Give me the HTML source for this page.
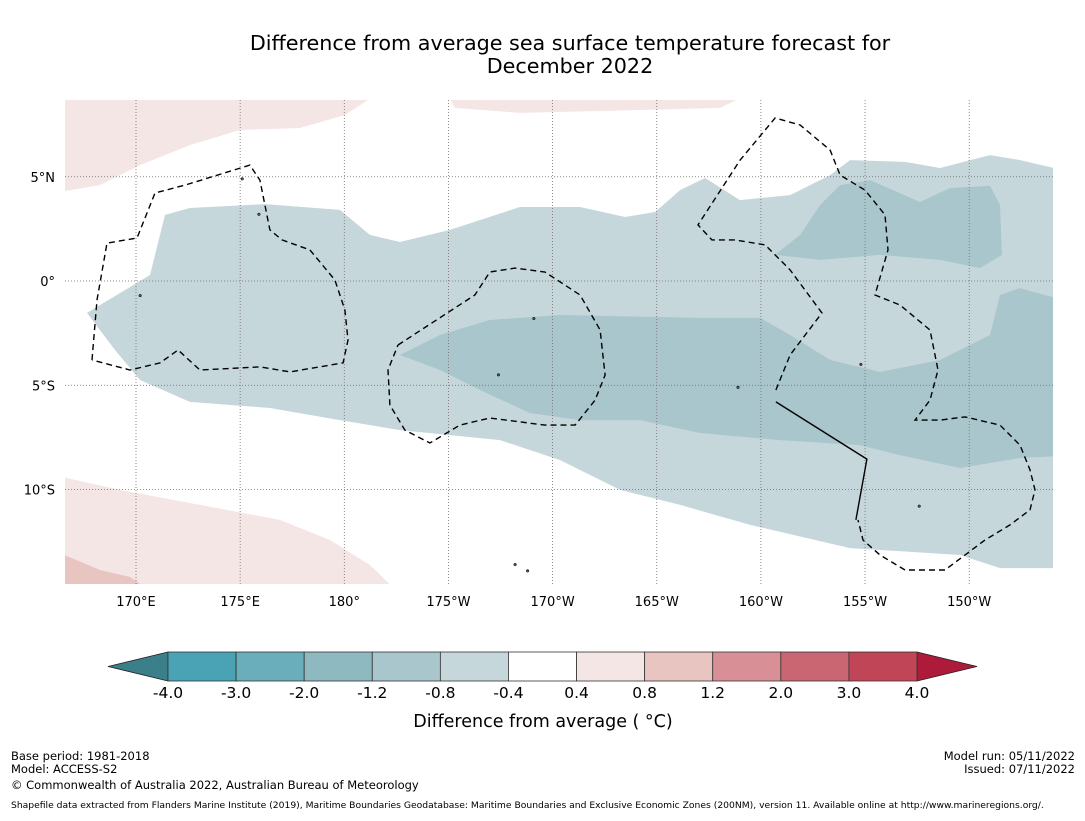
<!DOCTYPE html>
<html><head><meta charset="utf-8">
<style>
body{margin:0;background:#fff;font-family:"Liberation Sans","DejaVu Sans",sans-serif;}
svg text{font-family:"DejaVu Sans","Liberation Sans",sans-serif;}
</style></head>
<body>
<svg id="c" width="1085" height="816" xmlns="http://www.w3.org/2000/svg">
<rect width="1085" height="816" fill="#fff"/>
<text x="570" y="50" font-size="20.7" text-anchor="middle">Difference from average sea surface temperature forecast for</text>
<text x="570" y="73" font-size="20.7" text-anchor="middle">December 2022</text>
<defs><clipPath id="mapclip"><rect x="65" y="100" width="988" height="484"/></clipPath></defs>
<g id="map" clip-path="url(#mapclip)"></g>
<g id="axes"></g>
<g id="cbar"></g>
<text x="543" y="727" font-size="17.5" text-anchor="middle">Difference from average ( °C)</text>
<g font-size="11.5" font-family="Liberation Sans, sans-serif">
<text x="11" y="760">Base period: 1981-2018</text>
<text x="11" y="773">Model: ACCESS-S2</text>
<text x="11" y="789">© Commonwealth of Australia 2022, Australian Bureau of Meteorology</text>
<text x="1075" y="760" text-anchor="end">Model run: 05/11/2022</text>
<text x="1075" y="773" text-anchor="end">Issued: 07/11/2022</text>
<text x="11" y="808" font-size="9.2">Shapefile data extracted from Flanders Marine Institute (2019), Maritime Boundaries Geodatabase: Maritime Boundaries and Exclusive Economic Zones (200NM), version 11. Available online at http://www.marineregions.org/.</text>
</g>
</svg>
<script>
const lonTicks=[170,175,180,185,190,195,200,205,210];
const lonTickLabels=["170°E","175°E","180°","175°W","170°W","165°W","160°W","155°W","150°W"];
const latTicks=[5,0,-5,-10];
const latTickLabels=["5°N","0°","5°S","10°S"];
const cbarLabels=["-4.0","-3.0","-2.0","-1.2","-0.8","-0.4","0.4","0.8","1.2","2.0","3.0","4.0"];
const cbarColors=["#4aa3b4","#6aaebc","#8fb9c1","#a8c6cb","#c5d7db","#ffffff","#f4e6e5","#e8c5c1","#d88f96","#ca6572","#c04556"];
const anomLight=[[167.65,-1.53],[170.67,0.29],[171.39,3.17],[172.59,3.5],[176.19,3.69],[179.79,3.41],[181.23,2.21],[182.67,1.87],[185.07,2.45],[188.43,3.55],[191.32,3.55],[193.48,3.07],[194.92,3.31],[196.12,4.36],[197.32,4.94],[198.99,3.88],[201.4,4.12],[203.32,5.08],[204.28,5.8],[206.92,5.71],[208.6,5.42],[211,6.04],[212.44,5.8],[214.5,5.32],[214.5,-13.77],[211.48,-13.77],[209.56,-13.14],[204.28,-12.81],[199.48,-11.7],[196.12,-10.74],[193.24,-10.02],[190.36,-8.59],[187.47,-7.63],[182.67,-7.15],[179.79,-6.67],[176.43,-6.09],[172.59,-5.8],[170.19,-4.75],[168.99,-3.31]];
const anomMidBand=[[182.67,-3.55],[184.59,-2.59],[186.99,-1.87],[190.36,-1.63],[197.08,-1.77],[199.96,-1.77],[201.4,-2.59],[203.32,-3.79],[205.72,-4.36],[208.6,-3.79],[211,-2.59],[211.48,-0.67],[212.44,-0.34],[214.5,-0.91],[214.5,-8.39],[212.44,-8.49],[209.56,-8.97],[206.68,-8.35],[204.76,-7.87],[200.92,-7.63],[197.08,-7.29],[194.2,-6.67],[191.32,-6.67],[188.91,-6.33],[186.51,-5.23],[184.59,-4.27]];
const anomMidNE=[[200.68,1.25],[201.88,2.21],[202.84,3.65],[203.8,4.6],[205.24,4.84],[207.64,3.79],[209.08,4.46],[211,4.56],[211.48,3.65],[211.57,1.25],[210.52,0.62],[208.6,1.01],[205.72,1.25],[202.84,1.01]];
const warmNW=[[166,9],[181.14,9],[181.14,8.68],[180.03,7.96],[177.87,7.34],[174.99,7.24],[172.59,6.52],[170.19,5.56],[168.27,4.6],[166,4.22]];
const warmN=[[184.93,9],[185.31,8.3],[188.43,8.06],[194.2,8.2],[198.04,8.3],[199.48,9]];
const warmSW=[[166,-9.3],[169.23,-10.02],[173.07,-10.74],[176.91,-11.46],[179.31,-12.42],[181.23,-13.62],[182.67,-15],[166,-15]];
const warm2SW=[[166,-12.9],[168.27,-13.86],[169.71,-14.19],[170.91,-15],[166,-15]];
const eezGilbert=[[167.89,-3.79],[168.13,-0.91],[168.61,1.82],[170.05,2.06],[170.91,4.22],[172.35,4.6],[175.47,5.56],[175.95,4.84],[176.43,2.45],[177.01,1.97],[178.35,1.49],[179.55,0.05],[180.03,-1.39],[180.18,-2.83],[179.94,-3.93],[177.39,-4.36],[175.95,-4.12],[173.07,-4.27],[172.02,-3.31],[171.15,-3.93],[169.71,-4.27],[167.89,-3.79]];
const eezPhoenix=[[182.58,-3.07],[186.27,-0.67],[186.99,0.43],[188.19,0.62],[189.63,0.43],[191.32,-0.67],[192.28,-2.35],[192.52,-4.51],[192.04,-5.71],[191.08,-6.91],[189.63,-6.91],[186.99,-6.57],[185.55,-6.91],[184.11,-7.77],[182.91,-7.15],[182.19,-5.95],[182.1,-4.27],[182.58,-3.07]];
const eezLine=[[200.72,-5.23],[201.4,-3.55],[202.93,-1.53],[201.4,0.53],[200.2,1.73],[198.76,1.97],[197.65,1.97],[196.98,2.69],[199,5.8],[200.68,7.82],[201.88,7.48],[203.32,6.28],[203.8,5.08],[205,4.36],[205.96,3.17],[206.1,1.49],[205.48,-0.67],[206.68,-1.15],[208.12,-2.35],[208.5,-4.27],[208.12,-5.71],[207.4,-6.67],[208.6,-6.67],[209.8,-6.52],[211.48,-6.91],[212.44,-7.87],[212.92,-9.06],[213.16,-10.02],[212.92,-10.98],[211.96,-11.7],[210.76,-12.42],[209.8,-13.14],[208.84,-13.86],[206.92,-13.86],[205.72,-13.14],[204.9,-12.42],[204.66,-11.46]];
const eezSolid=[[200.72,-5.8],[205.09,-8.54],[204.56,-11.46]];
const islands=[[187.4,-4.5],[189.1,-1.8],[198.9,-5.1],[204.8,-4.0],[170.2,-0.7],[207.6,-10.8],[188.2,-13.6],[188.8,-13.9],[175.1,4.9],[175.9,3.2]];

const NS="http://www.w3.org/2000/svg";
const X=lon=>136+(lon-170)*20.83;
const Y=lat=>281-lat*20.85;
const map=document.getElementById('map'), axes=document.getElementById('axes'), cb=document.getElementById('cbar');
function mk(tag,attrs,parent){const e=document.createElementNS(NS,tag);for(const k in attrs)e.setAttribute(k,attrs[k]);parent.appendChild(e);return e;}
function pts(a){return a.map(p=>X(p[0]).toFixed(1)+','+Y(p[1]).toFixed(1)).join(' ');}
function poly(a,fill,name){const e=mk('polygon',{points:pts(a),fill:fill},map);

}
poly(warmNW,'#f4e6e5','warm-anomaly-northwest');
poly(warmN,'#f4e6e5','warm-anomaly-north');
poly(warmSW,'#f4e6e5','warm-anomaly-southwest');
poly(warm2SW,'#e8c5c1','warm-anomaly-southwest-strong');
poly(anomLight,'#c5d7db','cool-anomaly-light');
poly(anomMidBand,'#a8c6cb','cool-anomaly-band');
poly(anomMidNE,'#a8c6cb','cool-anomaly-northeast');
lonTicks.forEach((lon,i)=>{const l=mk('line',{x1:X(lon),x2:X(lon),y1:100,y2:584,stroke:'#7a6a6a','stroke-width':0.8,'stroke-dasharray':'1,2'},map);


const t=mk('text',{x:X(lon),y:606,'font-size':13,'text-anchor':'middle'},axes);t.textContent=lonTickLabels[i];

});
latTicks.forEach((lat,i)=>{const l=mk('line',{x1:65,x2:1053,y1:Y(lat),y2:Y(lat),stroke:'#6a6a6a','stroke-width':0.8,'stroke-dasharray':'1,2'},map);


const t=mk('text',{x:55,y:Y(lat)+5,'font-size':13,'text-anchor':'end'},axes);t.textContent=latTickLabels[i];

});
function line(a,dash,name){const e=mk('polyline',{points:pts(a),fill:'none',stroke:'#000','stroke-width':1.4,'stroke-dasharray':dash},map);

}
line(eezGilbert,'6,4','eez-boundary-gilbert');
line(eezPhoenix,'6,4','eez-boundary-phoenix');
line(eezLine,'6,4','eez-boundary-line-islands');
line(eezSolid,'none','eez-boundary-solid');
islands.forEach(p=>{const e=mk('circle',{cx:X(p[0]),cy:Y(p[1]),r:1.3,fill:'#555',stroke:'#000','stroke-width':0.5},map);

});
const cx0=168,cx1=917,cy=652,ch=29,w=(cx1-cx0)/cbarColors.length;
const le=mk('polygon',{points:`108,${cy+ch/2} ${cx0},${cy} ${cx0},${cy+ch}`,fill:'#3a7f8a',stroke:'#222','stroke-width':0.8},cb);


const re=mk('polygon',{points:`977,${cy+ch/2} ${cx1},${cy} ${cx1},${cy+ch}`,fill:'#ae1b3a',stroke:'#222','stroke-width':0.8},cb);


cbarColors.forEach((c,i)=>{const r=mk('rect',{x:cx0+i*w,y:cy,width:w,height:ch,fill:c,stroke:'#333','stroke-width':0.8},cb);

});
cbarLabels.forEach((s,i)=>{const t=mk('text',{x:cx0+i*w,y:698,'font-size':15.5,'text-anchor':'middle'},cb);t.textContent=s;

});
</script>
</body></html>
